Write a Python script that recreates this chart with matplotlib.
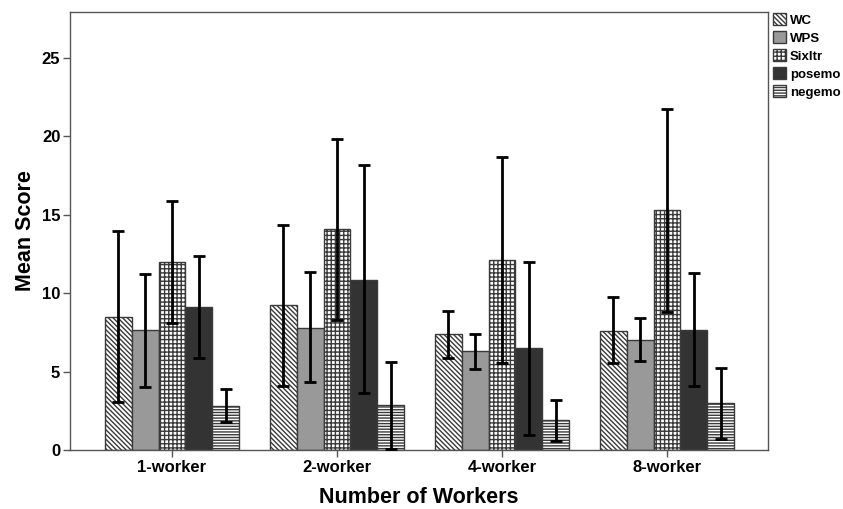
import numpy as np
import matplotlib
matplotlib.use("Agg")
import matplotlib.pyplot as plt

plt.rcParams["font.family"] = ["Liberation Sans", "DejaVu Sans"]
plt.rcParams["hatch.linewidth"] = 1.0
plt.rcParams["hatch.color"] = "#1a1a1a"

groups = ["1-worker", "2-worker", "4-worker", "8-worker"]
series = ["WC", "WPS", "Sixltr", "posemo", "negemo"]

means = {
    "WC":     [8.50, 9.25, 7.40, 7.60],
    "WPS":    [7.62, 7.80, 6.30, 7.03],
    "Sixltr": [12.00, 14.08, 12.10, 15.30],
    "posemo": [9.10, 10.85, 6.50, 7.65],
    "negemo": [2.82, 2.84, 1.88, 3.00],
}
err_low = {
    "WC":     [3.03, 4.05, 5.83, 5.56],
    "WPS":    [4.03, 4.30, 5.15, 5.64],
    "Sixltr": [8.10, 8.31, 5.56, 8.80],
    "posemo": [5.87, 3.60, 0.95, 4.05],
    "negemo": [1.76, 0.04, 0.57, 0.72],
}
err_high = {
    "WC":     [13.95, 14.36, 8.88, 9.75],
    "WPS":    [11.24, 11.32, 7.38, 8.44],
    "Sixltr": [15.86, 19.82, 18.68, 21.73],
    "posemo": [12.34, 18.13, 12.00, 11.26],
    "negemo": [3.88, 5.60, 3.20, 5.24],
}

styles = {
    "WC":     dict(facecolor="white", hatch="\\" * 7),
    "WPS":    dict(facecolor="#999999", hatch=None),
    "Sixltr": dict(facecolor="white", hatch="+" * 4),
    "posemo": dict(facecolor="#333333", hatch=None),
    "negemo": dict(facecolor="white", hatch="-" * 6),
}

fig = plt.figure(figsize=(8.43, 5.09), dpi=100)
ax = fig.add_axes([70 / 843, 1 - 450 / 509, (768 - 70) / 843, (450 - 12) / 509])

x = np.arange(len(groups))
width = 0.163
handles = []
for i, s in enumerate(series):
    pos = x + (i - 2) * width
    m = np.array(means[s])
    lo = m - np.array(err_low[s])
    hi = np.array(err_high[s]) - m
    b = ax.bar(pos, m, width, edgecolor="#3a3a3a", linewidth=1.0,
               label=s, zorder=2, **styles[s])
    handles.append(b)
    ax.errorbar(pos, m, yerr=[lo, hi], fmt="none", ecolor="black",
                elinewidth=2.0, capsize=4.5, capthick=2.0, zorder=3)

ax.set_xlim(-0.618, 3.612)
ax.set_ylim(0, 27.9)
ax.set_yticks([0, 5, 10, 15, 20, 25])
ax.set_xticks(x)
ax.set_xticklabels(groups)
ax.tick_params(axis="both", direction="out", length=5, width=1,
               color="#555555", labelsize=12, labelcolor="black", pad=2)
for lbl in ax.get_xticklabels() + ax.get_yticklabels():
    lbl.set_fontweight("bold")
for sp in ax.spines.values():
    sp.set_color("#555555")
    sp.set_linewidth(1.0)

ax.set_ylabel("Mean Score", fontsize=15.5, fontweight="bold", labelpad=4)
ax.set_xlabel("Number of Workers", fontsize=15.5, fontweight="bold", labelpad=9)

fig.legend(handles, series, loc="upper left",
           bbox_to_anchor=(768 / 843, 1 - 8 / 509), frameon=False,
           handlelength=1.0, handleheight=1.0, handletextpad=0.25,
           labelspacing=0.35, borderaxespad=0.0,
           prop={"weight": "bold", "size": 9.5})

fig.savefig("out.png", dpi=100)
